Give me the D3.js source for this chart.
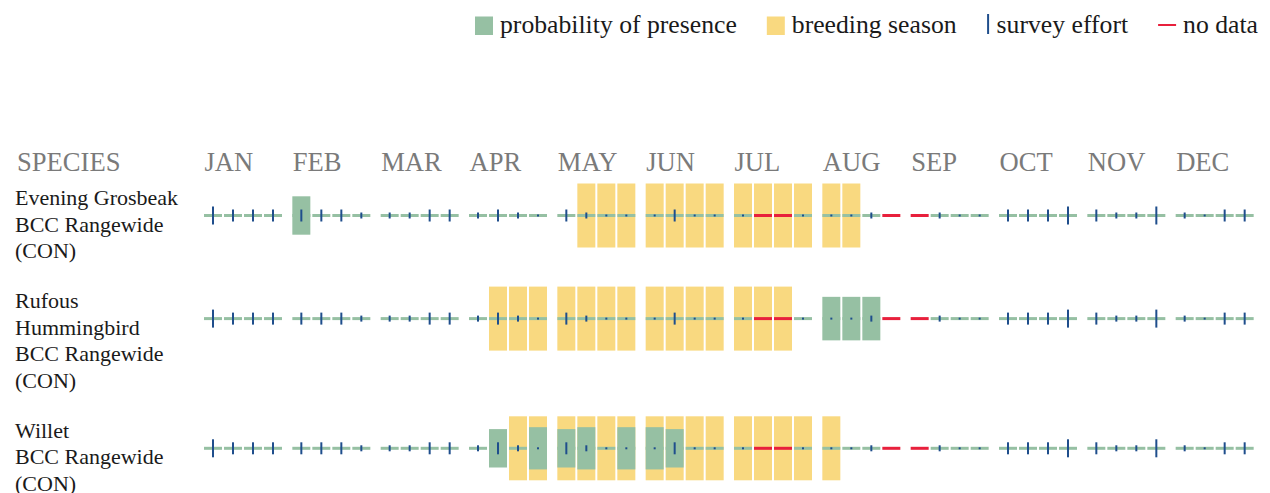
<!DOCTYPE html>
<html>
<head>
<meta charset="utf-8">
<script src="https://cdn.jsdelivr.net/npm/d3@7"></script>
<style>
  body { margin: 0; background: #fff; }
  svg { display: block; font-family: 'Liberation Serif', 'Times New Roman', serif; }
</style>
</head>
<body>
<div id="chart"></div>
<script>
const months = ['JAN', 'FEB', 'MAR', 'APR', 'MAY', 'JUN', 'JUL', 'AUG', 'SEP', 'OCT', 'NOV', 'DEC']
const weeks = [0, 1, 2, 3]

// survey effort per week (0 = very few surveys .. 3 = many), null = no data
const surveyEffort = [
  3, 2, 2, 2,   2, 2, 2, 1,   1, 1, 2, 2,   1, 2, 1, 0,
  2, 1, 0, 0,   0, 2, 0, 0,   0, null, null, 0,   0, 0, 1, null,
  null, 1, 0, 0,   2, 2, 2, 3,   2, 1, 1, 3,   1, 0, 2, 2
]

const speciesLabels = [
  ['Evening Grosbeak', 'BCC Rangewide', '(CON)'],
  ['Rufous', 'Hummingbird', 'BCC Rangewide', '(CON)'],
  ['Willet', 'BCC Rangewide', '(CON)']
]

// 1 = week falls in breeding season
const grosbeakBreeding = [
  0, 0, 0, 0,   0, 0, 0, 0,   0, 0, 0, 0,   0, 0, 0, 0,
  0, 1, 1, 1,   1, 1, 1, 1,   1, 1, 1, 1,   1, 1, 0, 0,
  0, 0, 0, 0,   0, 0, 0, 0,   0, 0, 0, 0,   0, 0, 0, 0
]
const hummingbirdBreeding = [
  0, 0, 0, 0,   0, 0, 0, 0,   0, 0, 0, 0,   0, 1, 1, 1,
  1, 1, 1, 1,   1, 1, 1, 1,   1, 1, 1, 0,   0, 0, 0, 0,
  0, 0, 0, 0,   0, 0, 0, 0,   0, 0, 0, 0,   0, 0, 0, 0
]
const willetBreeding = [
  0, 0, 0, 0,   0, 0, 0, 0,   0, 0, 0, 0,   0, 0, 1, 1,
  1, 1, 1, 1,   1, 1, 1, 1,   1, 1, 1, 1,   1, 0, 0, 0,
  0, 0, 0, 0,   0, 0, 0, 0,   0, 0, 0, 0,   0, 0, 0, 0
]

// probability of presence per week (0..1)
const grosbeakPresence = [
  0, 0, 0, 0,   0.6, 0, 0, 0,   0, 0, 0, 0,   0, 0, 0, 0,
  0, 0, 0, 0,   0, 0, 0, 0,   0, 0, 0, 0,   0, 0, 0, 0,
  0, 0, 0, 0,   0, 0, 0, 0,   0, 0, 0, 0,   0, 0, 0, 0
]
const hummingbirdPresence = [
  0, 0, 0, 0,   0, 0, 0, 0,   0, 0, 0, 0,   0, 0, 0, 0,
  0, 0, 0, 0,   0, 0, 0, 0,   0, 0, 0, 0,   0.68, 0.68, 0.68, 0,
  0, 0, 0, 0,   0, 0, 0, 0,   0, 0, 0, 0,   0, 0, 0, 0
]
const willetPresence = [
  0, 0, 0, 0,   0, 0, 0, 0,   0, 0, 0, 0,   0, 0.6, 0, 0.66,
  0.6, 0.66, 0, 0.66,   0.66, 0.6, 0, 0,   0, 0, 0, 0,   0, 0, 0, 0,
  0, 0, 0, 0,   0, 0, 0, 0,   0, 0, 0, 0,   0, 0, 0, 0
]

const breeding = [grosbeakBreeding, hummingbirdBreeding, willetBreeding]
const presence = [grosbeakPresence, hummingbirdPresence, willetPresence]

const legendLabels = ['probability of presence', 'breeding season', 'survey effort', 'no data']

const colors = {
  presence: '#96c0a3',
  breeding: '#f9d980',
  effort: '#1f4e8c',
  noData: '#e8203c',
  header: '#7a7a7a',
  text: '#1a1a1a'
}

const width = 1270
const height = 493

const svg = d3.select('#chart')
  .append('svg')
  .attr('width', width)
  .attr('height', height)

// Month and week scales
const monthStep = 1060 / 12
const x = d3.scaleBand()
  .domain(months)
  .range([203, 203 + monthStep * 12])
const xWeek = d3.scaleBand()
  .domain(weeks)
  .range([0, 80])
  .paddingInner(0.1)
  .paddingOuter(0.05)
const cellX = i => x(months[Math.floor(i / 4)]) + xWeek(i % 4)

const boxH = d3.scaleLinear().domain([0, 1]).range([0, 64])
const tickH = d3.scaleOrdinal().domain([0, 1, 2, 3]).range([2, 6, 12, 18])

// Header
svg.append('text')
  .attr('x', 17)
  .attr('y', 171)
  .attr('fill', colors.header)
  .attr('font-size', '26.6px')
  .text('SPECIES')

svg.selectAll('.month-label')
  .data(months)
  .join('text')
  .attr('class', 'month-label')
  .attr('x', d => x(d) + 1.5)
  .attr('y', 171)
  .attr('fill', colors.header)
  .attr('font-size', '26.6px')
  .text(d => d)

// Rows: height depends on how many lines the species label needs
const lineHeight = 26.6
const rowGap = 23.3
let baseline = 205
const rows = speciesLabels.map((lines, i) => {
  const row = { lines, baseline, breeding: breeding[i], presence: presence[i] }
  baseline += lines.length * lineHeight + rowGap
  return row
})

const weekIdx = d3.range(48)

rows.forEach(row => {
  // Species label
  const label = svg.append('text')
    .attr('x', 15)
    .attr('y', row.baseline)
    .attr('fill', colors.text)
    .attr('font-size', '22px')
  label.selectAll('tspan')
    .data(row.lines)
    .join('tspan')
    .attr('x', 15)
    .attr('dy', (d, i) => i === 0 ? 0 : lineHeight)
    .text(d => d)

  const g = svg.append('g')
    .attr('transform', `translate(0, ${row.baseline + 10.5})`)

  // Breeding season boxes
  g.selectAll('.breeding')
    .data(weekIdx.filter(i => row.breeding[i]))
    .join('rect')
    .attr('class', 'breeding')
    .attr('x', cellX)
    .attr('y', -boxH(1) / 2)
    .attr('width', xWeek.bandwidth())
    .attr('height', boxH(1))
    .attr('fill', colors.breeding)

  // Base line for weeks with data
  g.selectAll('.base')
    .data(weekIdx.filter(i => surveyEffort[i] !== null))
    .join('rect')
    .attr('class', 'base')
    .attr('x', cellX)
    .attr('y', -1.5)
    .attr('width', xWeek.bandwidth())
    .attr('height', 3)
    .attr('fill', colors.presence)

  // No data
  g.selectAll('.nodata')
    .data(weekIdx.filter(i => surveyEffort[i] === null))
    .join('rect')
    .attr('class', 'nodata')
    .attr('x', cellX)
    .attr('y', -1.5)
    .attr('width', xWeek.bandwidth())
    .attr('height', 3)
    .attr('fill', colors.noData)

  // Probability of presence
  g.selectAll('.presence')
    .data(weekIdx.filter(i => row.presence[i] > 0))
    .join('rect')
    .attr('class', 'presence')
    .attr('x', cellX)
    .attr('y', i => -boxH(row.presence[i]) / 2)
    .attr('width', xWeek.bandwidth())
    .attr('height', i => boxH(row.presence[i]))
    .attr('fill', colors.presence)

  // Survey effort ticks
  g.selectAll('.effort')
    .data(weekIdx.filter(i => surveyEffort[i] !== null))
    .join('rect')
    .attr('class', 'effort')
    .attr('x', i => cellX(i) + xWeek.bandwidth() / 2 - 1)
    .attr('y', i => -tickH(surveyEffort[i]) / 2)
    .attr('width', 2)
    .attr('height', i => tickH(surveyEffort[i]))
    .attr('fill', colors.effort)
})

// Legend, laid out right to left against the right edge
const legend = svg.append('g')
const swatchW = [18, 18, 3, 18]
const items = legend.selectAll('.legend-item')
  .data(legendLabels)
  .join('g')
  .attr('class', 'legend-item')

items.append('text')
  .attr('y', 33)
  .attr('fill', colors.text)
  .attr('font-size', '25.7px')
  .text(d => d)

const textW = []
items.select('text').each(function () { textW.push(this.getComputedTextLength()) })
const itemW = legendLabels.map((d, i) => swatchW[i] + 7 + textW[i])
const totalW = d3.sum(itemW) + 30 * (legendLabels.length - 1)
let lx = 1258 - totalW
items.each(function (d, i) {
  const item = d3.select(this).attr('transform', `translate(${lx}, 0)`)
  item.select('text').attr('x', swatchW[i] + 7)
  if (i === 0 || i === 1) {
    item.append('rect')
      .attr('x', 0)
      .attr('y', 16.5)
      .attr('width', 18)
      .attr('height', 18.5)
      .attr('fill', i === 0 ? colors.presence : colors.breeding)
  } else if (i === 2) {
    item.append('line')
      .attr('x1', 1.5).attr('x2', 1.5)
      .attr('y1', 14).attr('y2', 34)
      .attr('stroke', colors.effort)
      .attr('stroke-width', 2)
  } else {
    item.append('line')
      .attr('x1', 0).attr('x2', 18)
      .attr('y1', 25).attr('y2', 25)
      .attr('stroke', colors.noData)
      .attr('stroke-width', 2)
  }
  lx += itemW[i] + 30
})
</script>
</body>
</html>
